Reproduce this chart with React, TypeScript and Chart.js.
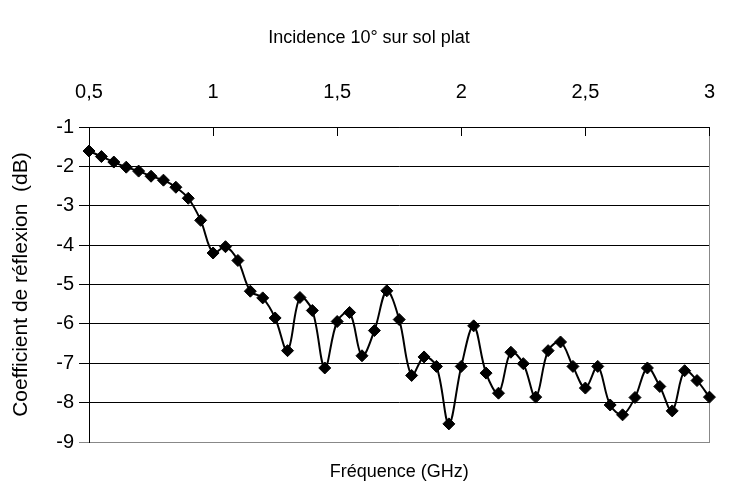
import { useEffect, useRef } from 'react';
import { Chart, registerables } from 'chart.js';

Chart.register(...registerables);

const chartTitle = 'Incidence 10° sur sol plat';
const xAxisTitle = 'Fréquence (GHz)';
const yAxisTitle = 'Coefficient de réflexion  (dB)';

const frequencies = [
  0.5, 0.55, 0.6, 0.65, 0.7, 0.75, 0.8, 0.85, 0.9, 0.95,
  1.0, 1.05, 1.1, 1.15, 1.2, 1.25, 1.3, 1.35, 1.4, 1.45,
  1.5, 1.55, 1.6, 1.65, 1.7, 1.75, 1.8, 1.85, 1.9, 1.95,
  2.0, 2.05, 2.1, 2.15, 2.2, 2.25, 2.3, 2.35, 2.4, 2.45,
  2.5, 2.55, 2.6, 2.65, 2.7, 2.75, 2.8, 2.85, 2.9, 2.95,
  3.0,
];

const reflection = [
  -1.61, -1.75, -1.89, -2.02, -2.12, -2.25, -2.35, -2.53, -2.81, -3.37,
  -4.2, -4.04, -4.39, -5.17, -5.34, -5.85, -6.68, -5.33, -5.66, -7.12,
  -5.94, -5.71, -6.81, -6.17, -5.16, -5.89, -7.31, -6.84, -7.08, -8.54,
  -7.08, -6.05, -7.25, -7.76, -6.72, -7.01, -7.86, -6.68, -6.46, -7.08,
  -7.63, -7.08, -8.06, -8.31, -7.87, -7.12, -7.59, -8.21, -7.19, -7.44,
  -7.86,
];

const xTickValues = [0.5, 1, 1.5, 2, 2.5, 3];
const xTickLabels = ['0,5', '1', '1,5', '2', '2,5', '3'];
const yTickValues = [-1, -2, -3, -4, -5, -6, -7, -8, -9];
const yTickLabels = ['-1', '-2', '-3', '-4', '-5', '-6', '-7', '-8', '-9'];

const FONT = "'Liberation Sans', Arial, sans-serif";

const innerTicksPlugin = {
  id: 'innerTopTicks',
  afterDraw(chart: any) {
    const { ctx, chartArea, scales } = chart;
    const xs = scales.x;
    ctx.save();
    ctx.strokeStyle = '#000';
    ctx.lineWidth = 1;
    for (const v of xTickValues) {
      const px = Math.round(xs.getPixelForValue(v)) + 0.5;
      ctx.beginPath();
      ctx.moveTo(px, chartArea.top);
      ctx.lineTo(px, chartArea.top + 9);
      ctx.stroke();
    }
    ctx.restore();
  },
};

export default function App() {
  const ref = useRef<HTMLCanvasElement | null>(null);

  useEffect(() => {
    document.body.style.margin = '0';
    const canvas = ref.current;
    if (!canvas) return;
    const chart = new Chart(canvas, {
      type: 'line',
      data: {
        datasets: [
          {
            data: frequencies.map((f, i) => ({ x: f, y: reflection[i] })),
            borderColor: '#000',
            borderWidth: 2,
            backgroundColor: '#000',
            pointStyle: 'rectRot',
            pointRadius: 6,
            pointBorderWidth: 1,
            pointBackgroundColor: '#000',
            pointBorderColor: '#000',
            tension: 0.35,
            fill: false,
            clip: false,
          },
        ],
      },
      options: {
        responsive: false,
        animation: false,
        devicePixelRatio: 1,
        layout: { padding: { left: 0, right: 0, top: 0, bottom: 0 } },
        plugins: {
          legend: { display: false },
          tooltip: { enabled: false },
          title: {
            display: true,
            text: chartTitle,
            color: '#000',
            font: { family: FONT, size: 18, weight: 'normal', lineHeight: 1.2 },
            padding: { top: 27.2, bottom: 10 },
          },
        },
        scales: {
          x: {
            type: 'linear',
            position: 'top',
            min: 0.5,
            max: 3,
            afterBuildTicks: (scale: any) => {
              scale.ticks = xTickValues.map((v) => ({ value: v }));
            },
            afterFit: (scale: any) => {
              scale.height = 68.2;
            },
            grid: { display: false, drawTicks: false },
            border: { display: true, color: '#000', width: 1 },
            ticks: {
              color: '#000',
              font: { family: FONT, size: 20 },
              padding: 23,
              maxRotation: 0,
              autoSkip: false,
              callback: (v: any) => {
                const i = xTickValues.findIndex((t) => Math.abs(t - Number(v)) < 1e-6);
                return i >= 0 ? xTickLabels[i] : '';
              },
            },
          },
          x2: {
            type: 'linear',
            position: 'bottom',
            min: 0.5,
            max: 3,
            afterFit: (scale: any) => {
              scale.height = 54;
            },
            grid: { display: false, drawTicks: false },
            border: { display: true, color: '#888', width: 1 },
            ticks: { display: false },
            title: {
              display: true,
              text: xAxisTitle,
              color: '#000',
              font: { family: FONT, size: 18 },
              padding: { top: 0, bottom: 13 },
            },
          },
          y: {
            type: 'linear',
            position: 'left',
            min: -9,
            max: -1,
            afterBuildTicks: (scale: any) => {
              scale.ticks = yTickValues.map((v) => ({ value: v }));
            },
            afterFit: (scale: any) => {
              scale.width = 89;
            },
            grid: {
              display: true,
              drawTicks: true,
              tickLength: 10,
              color: (c: any) => (c.tick && c.tick.value === -9 ? '#888' : '#000'),
              lineWidth: 1,
            },
            border: { display: true, color: '#000', width: 1 },
            ticks: {
              color: '#000',
              font: { family: FONT, size: 20 },
              padding: 5,
              autoSkip: false,
              callback: (v: any) => {
                const i = yTickValues.findIndex((t) => Math.abs(t - Number(v)) < 1e-6);
                return i >= 0 ? yTickLabels[i] : '';
              },
            },
            title: {
              display: true,
              text: yAxisTitle,
              color: '#000',
              font: { family: FONT, size: 21, lineHeight: 0.4 },
              padding: { top: 16.8, bottom: 0 },
            },
          },
          y2: {
            type: 'linear',
            position: 'right',
            min: -9,
            max: -1,
            afterFit: (scale: any) => {
              scale.width = 10;
            },
            grid: { display: false, drawTicks: false },
            border: { display: true, color: '#888', width: 1 },
            ticks: { display: false },
          },
        },
      },
      plugins: [innerTicksPlugin],
    } as any);
    return () => chart.destroy();
  }, []);

  return (
    <div style={{ width: 738, height: 496 }}>
      <canvas ref={ref} width={738} height={496} style={{ display: 'block' }} />
    </div>
  );
}
